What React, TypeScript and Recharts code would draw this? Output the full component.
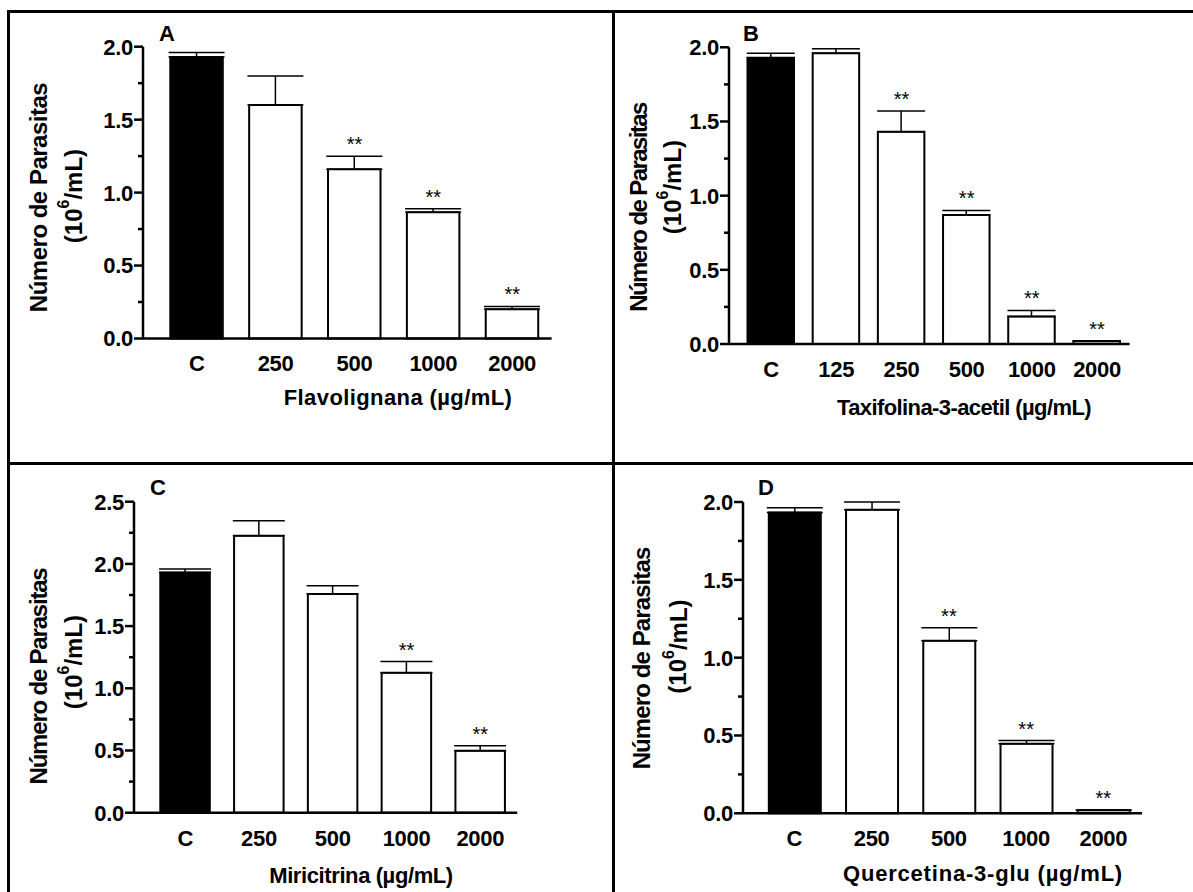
import { ComposedChart, Bar, Cell, ErrorBar, Line, LabelList, XAxis, YAxis } from 'recharts';

const FONT = '"Liberation Sans", Arial, Helvetica, sans-serif';

// Painel A - Flavolignana
const catsA = ['C', '250', '500', '1000', '2000'];
const meansA = [1.93, 1.6, 1.16, 0.865, 0.2];
const errsA = [0.03, 0.2, 0.09, 0.025, 0.02];
const sigA = ['', '', '**', '**', '**'];

// Painel B - Taxifolina-3-acetil
const catsB = ['C', '125', '250', '500', '1000', '2000'];
const meansB = [1.93, 1.96, 1.43, 0.87, 0.186, 0.018];
const errsB = [0.03, 0.03, 0.14, 0.03, 0.04, 0.004];
const sigB = ['', '', '**', '**', '**', '**'];

// Painel C - Miricitrina
const catsC = ['C', '250', '500', '1000', '2000'];
const meansC = [1.93, 2.227, 1.758, 1.125, 0.498];
const errsC = [0.03, 0.12, 0.067, 0.09, 0.04];
const sigC = ['', '', '', '**', '**'];

// Painel D - Quercetina-3-glu
const catsD = ['C', '250', '500', '1000', '2000'];
const meansD = [1.933, 1.95, 1.109, 0.447, 0.02];
const errsD = [0.03, 0.05, 0.083, 0.02, 0.002];
const sigD = ['', '', '**', '**', '**'];

const ticks20 = [0, 0.25, 0.5, 0.75, 1, 1.25, 1.5, 1.75, 2];
const ticks25 = [0, 0.25, 0.5, 0.75, 1, 1.25, 1.5, 1.75, 2, 2.25, 2.5];

type Layout = {
  ox: number; oy: number; w: number; h: number;
  axisX: number; yTop: number; yBottom: number; axisEnd: number;
  padLeft: number; barSize: number; capW: number;
  line1: [number, number]; line2: [number, number]; yLs: number;
  letterPos: [number, number];
  xTitlePos: [number, number]; xLs: number;
};

const YTick = (props: any) => {
  const { x, y, payload } = props;
  const v = payload.value as number;
  const major = Math.abs(v * 2 - Math.round(v * 2)) < 1e-6;
  return (
    <g>
      <line x1={x - (major ? 9 : 5)} x2={x} y1={y} y2={y} stroke="#000" strokeWidth={2.5} />
      {major && (
        <text x={x - 10} y={y} dy="0.36em" textAnchor="end" fontFamily={FONT} fontWeight="bold" fontSize={22} letterSpacing={-0.3} fill="#000">
          {v.toFixed(1)}
        </text>
      )}
    </g>
  );
};

const XTick = (props: any) => {
  const { x, y, payload } = props;
  return (
    <text x={x} y={y + 25} dy="0.36em" textAnchor="middle" fontFamily={FONT} fontWeight="bold" fontSize={22} letterSpacing={-0.3} fill="#000">
      {payload.value}
    </text>
  );
};

function Titles({ L, letter, xTitle }: { L: Layout; letter: string; xTitle: string }) {
  const [l1x, l1y] = [L.line1[0] - L.ox, L.line1[1] - L.oy];
  const [l2x, l2y] = [L.line2[0] - L.ox, L.line2[1] - L.oy];
  const txt = { fontFamily: FONT, fontWeight: 'bold' as const, fill: '#000' };
  return (
    <g>
      <text {...txt} fontSize={24} letterSpacing={L.yLs} x={l1x} y={l1y} textAnchor="middle" dominantBaseline="central" transform={`rotate(-90 ${l1x} ${l1y})`}>
        Número de Parasitas
      </text>
      <text {...txt} fontSize={24} x={l2x} y={l2y} textAnchor="middle" dominantBaseline="central" transform={`rotate(-90 ${l2x} ${l2y})`}>
        (10<tspan fontSize={16} dy={-10}>6</tspan><tspan dy={10}>/mL)</tspan>
      </text>
      <text {...txt} fontSize={22} x={L.letterPos[0] - L.ox} y={L.letterPos[1] - L.oy} textAnchor="middle" dominantBaseline="central">
        {letter}
      </text>
      <text {...txt} fontSize={22} letterSpacing={L.xLs} x={L.xTitlePos[0] - L.ox} y={L.xTitlePos[1] - L.oy} textAnchor="middle" dominantBaseline="central">
        {xTitle}
      </text>
    </g>
  );
}

function Panel(props: {
  cats: string[]; means: number[]; errs: number[]; sig: string[];
  yMax: number; ticks: number[]; letter: string; xTitle: string; L: Layout;
}) {
  const { cats, means, errs, sig, yMax, ticks, letter, xTitle, L } = props;
  const data = cats.map((c, i) => ({
    cat: c,
    mean: means[i],
    err: [0, errs[i]],
    top: means[i] + errs[i],
    sig: sig[i],
  }));
  return (
    <div style={{ position: 'absolute', left: L.ox, top: L.oy, width: L.w, height: L.h }}>
      <ComposedChart
        width={L.w}
        height={L.h}
        data={data}
        margin={{ top: L.yTop - L.oy, right: L.ox + L.w - L.axisEnd, bottom: 0, left: 0 }}
      >
        <XAxis
          dataKey="cat"
          height={L.oy + L.h - L.yBottom}
          padding={{ left: L.padLeft, right: 0 }}
          axisLine={{ stroke: '#000', strokeWidth: 2.5 }}
          tickLine={false}
          tickSize={0}
          tickMargin={0}
          tick={<XTick />}
          interval={0}
        />
        <YAxis
          type="number"
          domain={[0, yMax]}
          ticks={ticks}
          interval={0}
          width={L.axisX - L.ox}
          axisLine={{ stroke: '#000', strokeWidth: 2.5 }}
          tickLine={false}
          tickSize={0}
          tickMargin={0}
          tick={<YTick />}
          label={<Titles L={L} letter={letter} xTitle={xTitle} />}
        />
        <Bar dataKey="mean" barSize={L.barSize} stroke="#000" strokeWidth={2} isAnimationActive={false}>
          {data.map((d, i) => (
            <Cell key={d.cat} fill={i === 0 ? '#000' : '#fff'} />
          ))}
          <ErrorBar dataKey="err" width={L.capW} stroke="#000" strokeWidth={1.5} direction="y" isAnimationActive={false} />
        </Bar>
        <Line dataKey="top" stroke="none" dot={false} activeDot={false} isAnimationActive={false} legendType="none">
          <LabelList
            dataKey="sig"
            content={(p: any) =>
              p.value ? (
                <text x={p.x} y={p.y - 5} textAnchor="middle" fontFamily={FONT} fontSize={20} fill="#000">
                  {p.value}
                </text>
              ) : null
            }
          />
        </Line>
      </ComposedChart>
    </div>
  );
}

const layoutA: Layout = {
  ox: 0, oy: 0, w: 610, h: 460,
  axisX: 143, yTop: 46.7, yBottom: 338.5, axisEnd: 551.6,
  padLeft: 14.3, barSize: 52.5, capW: 28,
  line1: [38, 197.5], line2: [73, 196], yLs: -0.5,
  letterPos: [167, 33],
  xTitlePos: [398, 397], xLs: 0.4,
};
const layoutB: Layout = {
  ox: 613, oy: 0, w: 580, h: 460,
  axisX: 729, yTop: 47.3, yBottom: 344, axisEnd: 1129.6,
  padLeft: 9.5, barSize: 46.5, capW: 24,
  line1: [638, 207.5], line2: [672, 187], yLs: -1.6,
  letterPos: [751, 33],
  xTitlePos: [964, 407], xLs: -0.6,
};
const layoutC: Layout = {
  ox: 0, oy: 463, w: 610, h: 429,
  axisX: 134, yTop: 501.7, yBottom: 812.7, axisEnd: 517.2,
  padLeft: 14.3, barSize: 49.5, capW: 26,
  line1: [38, 676.5], line2: [73, 662], yLs: -1.2,
  letterPos: [158, 487],
  xTitlePos: [361, 875], xLs: -0.4,
};
const layoutD: Layout = {
  ox: 613, oy: 463, w: 580, h: 429,
  axisX: 743, yTop: 502, yBottom: 813.3, axisEnd: 1142,
  padLeft: 12.8, barSize: 52, capW: 28,
  line1: [641.5, 658.5], line2: [677.5, 646.5], yLs: -0.9,
  letterPos: [766, 487],
  xTitlePos: [983, 873], xLs: 0.8,
};

const line = (left: number, top: number, width: number, height: number) => (
  <div style={{ position: 'absolute', left, top, width, height, background: '#000' }} />
);

export default function App() {
  return (
    <div style={{ position: 'absolute', left: 0, top: 0, width: 1193, height: 892, background: '#fff', overflow: 'hidden' }}>
      <Panel cats={catsA} means={meansA} errs={errsA} sig={sigA} yMax={2} ticks={ticks20} letter="A" xTitle="Flavolignana (µg/mL)" L={layoutA} />
      <Panel cats={catsB} means={meansB} errs={errsB} sig={sigB} yMax={2} ticks={ticks20} letter="B" xTitle="Taxifolina-3-acetil (µg/mL)" L={layoutB} />
      <Panel cats={catsC} means={meansC} errs={errsC} sig={sigC} yMax={2.5} ticks={ticks25} letter="C" xTitle="Miricitrina (µg/mL)" L={layoutC} />
      <Panel cats={catsD} means={meansD} errs={errsD} sig={sigD} yMax={2} ticks={ticks20} letter="D" xTitle="Quercetina-3-glu (µg/mL)" L={layoutD} />
      {line(7, 10, 1186, 2.5)}
      {line(7, 10, 2.5, 882)}
      {line(612, 10, 2.5, 882)}
      {line(7, 462, 1186, 2.5)}
    </div>
  );
}
